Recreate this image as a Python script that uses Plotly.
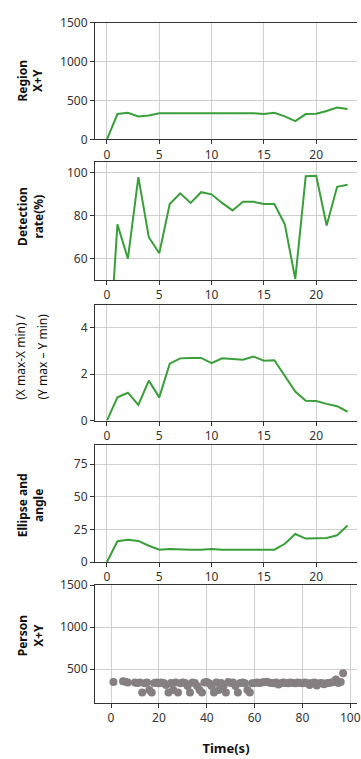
import plotly.graph_objects as go

# ---------------- data ----------------
times = [0, 1, 2, 3, 4, 5, 6, 7, 8, 9, 10, 11, 12, 13, 14, 15, 16, 17, 18, 19, 20, 21, 22, 23]
region_xy = [0, 325, 340, 295, 305, 335, 335, 335, 335, 335, 330, 335, 335, 335, 335, 325, 340, 295, 235, 325, 330, 365, 410, 390]
detection_rate = [0, 76, 60, 98, 70, 62.5, 85.5, 90.5, 86, 91, 90, 86, 82.5, 86.5, 86.5, 85.5, 85.5, 76, 50.5, 98.5, 98.7, 75.5, 93.5, 94.5]
ratio_xy = [0, 1.0, 1.2, 0.68, 1.72, 1.0, 2.45, 2.68, 2.7, 2.7, 2.47, 2.68, 2.65, 2.62, 2.76, 2.58, 2.6, 1.95, 1.25, 0.85, 0.84, 0.72, 0.62, 0.38]
ellipse_angle = [0, 16, 17, 16.2, 12.5, 9.5, 10, 9.5, 9.5, 9.5, 10, 9.5, 9.5, 9.5, 9, 9.5, 9.5, 14, 21.5, 18, 18.5, 18.5, 20.5, 28]

person_t = [1, 5, 6, 7,
            10, 11, 12, 13, 14, 15, 16, 17, 18, 19, 20, 21, 22, 23, 24, 25, 26, 27, 28, 29,
            30, 31, 32, 33, 34, 35, 36, 37, 38, 39, 40, 41, 42, 43, 44, 45, 46, 47, 48, 49,
            50, 51, 52, 53, 54, 55, 56, 57, 58, 59, 60, 61, 62, 63, 64, 65, 66, 67, 68, 69,
            70, 71, 72, 73, 74, 75, 76, 77, 78, 79, 80, 81, 82, 83, 84, 85, 86, 87, 88, 89,
            90, 91, 92, 93, 94, 95, 96, 97]
person_xy = [345, 355, 350, 340,
             340, 335, 340, 220, 330, 340, 250, 220, 335, 340, 330, 340, 335, 310, 220, 335, 250, 340, 220, 330,
             340, 335, 300, 220, 340, 335, 300, 250, 220, 340, 345, 330, 300, 220, 340, 250, 335, 300, 220, 345,
             335, 340, 300, 220, 335, 340, 330, 250, 220, 330, 335, 340, 335, 340, 345, 350, 340, 335, 330, 340,
             315, 330, 340, 335, 330, 340, 335, 330, 340, 335, 330, 340, 335, 310, 335, 340, 305, 330, 335, 320,
             330, 335, 340, 345, 375, 335, 345, 450]

top_xticks = [0, 5, 10, 15, 20]
bottom_xticks = [0, 20, 40, 60, 80, 100]
y_titles = ["Region<br>X+Y", "Detection<br>rate(%)", None, "Ellipse and<br>angle", "Person<br>X+Y"]

# ---------------- layout helpers ----------------
W, H = 361, 759
LINE_GREEN = "#3a9e3a"
FONT = "Noto Sans"

def py(p):
    return 1 - p / H

def px(p):
    return p / W

panels = [  # (top px, bottom px)
    (14, 133.3),
    (156.7, 277.3),
    (302.3, 421),
    (445.7, 565.7),
    (589.3, 710),
]
yranges = [[0, 1500], [50, 105], [0, 5], [0, 90], [95, 1500]]
yticks = [[0, 500, 1000, 1500], [60, 80, 100], [0, 2, 4], [0, 25, 50, 75], [500, 1000, 1500]]

fig = go.Figure()
series = [region_xy, detection_rate, ratio_xy, ellipse_angle]
for i, s in enumerate(series):
    fig.add_trace(go.Scatter(x=times, y=s, mode="lines",
                             line=dict(color=LINE_GREEN, width=2),
                             xaxis=f"x{i+1}", yaxis=f"y{i+1}", showlegend=False))
fig.add_trace(go.Scatter(x=person_t, y=person_xy, mode="markers",
                         marker=dict(color="#857f82", size=8, line=dict(width=0)),
                         xaxis="x5", yaxis="y5", showlegend=False))

common_axis = dict(showline=True, linecolor="#333", linewidth=1,
                   ticks="outside", ticklen=4, tickwidth=1, tickcolor="#333",
                   showgrid=True, gridcolor="#cfcfcf", gridwidth=1,
                   zeroline=False, ticklabeloverflow="allow",
                   tickfont=dict(family=FONT, size=12, color="#333"))

layout = dict(width=W, height=H, margin=dict(l=0, r=0, t=0, b=0),
              paper_bgcolor="white", plot_bgcolor="white", showlegend=False)

for i, (top, bot) in enumerate(panels):
    n = i + 1
    xr = [-1.15, 23.9] if i < 4 else [-6.74, 102.8]
    xt = top_xticks if i < 4 else bottom_xticks
    layout[f"xaxis{n}"] = dict(common_axis, domain=[px(96), 1], range=xr,
                               tickvals=xt, mirror=True, anchor=f"y{n}")
    layout[f"yaxis{n}"] = dict(common_axis, domain=[py(bot), py(top)], range=yranges[i],
                               tickvals=yticks[i], anchor=f"x{n}")

layout["xaxis5"]["title"] = dict(text="<b>Time(s)</b>", font=dict(family=FONT, size=13, color="#111"),
                                 standoff=18)

annotations = []
title_centers = [73.5, 212, None, 508, 641]
for i, t in enumerate(y_titles):
    if t is None:
        continue
    annotations.append(dict(text=f"<b>{t}</b>", x=px(31), y=py(title_centers[i]),
                            xref="paper", yref="paper", showarrow=False, textangle=-90,
                            xanchor="center", yanchor="middle", align="center",
                            font=dict(family=FONT, size=12, color="#111")))
# ratio panel: two separate lines, wider spacing, regular weight
annotations.append(dict(text="(X max-X min) /", x=px(20), y=py(356), xref="paper", yref="paper",
                        showarrow=False, textangle=-90, xanchor="center", yanchor="middle",
                        font=dict(family=FONT, size=12, color="#111")))
annotations.append(dict(text="(Y max \u2013 Y min)", x=px(43), y=py(356), xref="paper", yref="paper",
                        showarrow=False, textangle=-90, xanchor="center", yanchor="middle",
                        font=dict(family=FONT, size=12, color="#111")))
layout["annotations"] = annotations

fig.update_layout(**layout)
fig.write_html("out.html")
